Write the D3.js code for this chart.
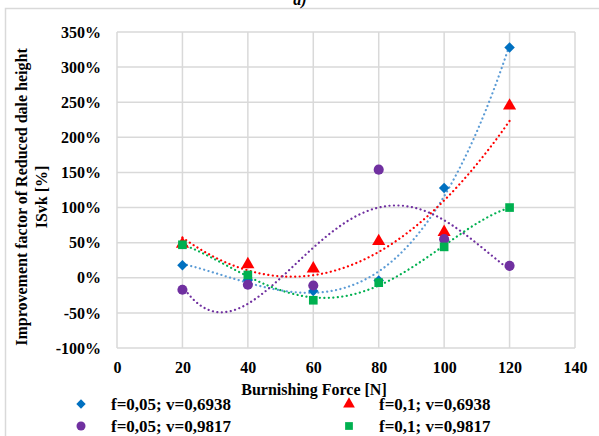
<!DOCTYPE html>
<html>
<head>
<meta charset="utf-8">
<script src="https://cdn.jsdelivr.net/npm/d3@7"></script>
<style>
  body { margin: 0; background: #fff; }
  svg { display: block; }
  svg text { font-family: "Liberation Serif", "Times New Roman", "DejaVu Serif", serif; }
</style>
</head>
<body>
<div id="chart"></div>
<script>
// data
const forces = [20, 40, 60, 80, 100, 120];
const xTicks = [0, 20, 40, 60, 80, 100, 120, 140];
const yTicks = [-100, -50, 0, 50, 100, 150, 200, 250, 300, 350];

const f005v6938 = [18, -3, -19, -4, 128, 328];
const f01v6938 = [48, 19, 13, 52, 65, 245];
const f005v9817 = [-17, -10, -11, 154, 55, 17];
const f01v9817 = [47, 4, -32, -7, 44, 100];

const seriesNames = ["f=0,05; v=0,6938", "f=0,1; v=0,6938", "f=0,05; v=0,9817", "f=0,1; v=0,9817"];
// polynomial order of each Excel trendline
const trendOrders = [3, 2, 4, 4];

const series = [
    { name: seriesNames[0], values: f005v6938, color: "#0070c0", trend: "#5b9bd5", shape: d3.symbolSquare, rot: 45, size: 55, order: trendOrders[0] },
    { name: seriesNames[1], values: f01v6938, color: "#ff0000", trend: "#ff0000", shape: d3.symbolTriangle, rot: 0, size: 75, order: trendOrders[1] },
    { name: seriesNames[2], values: f005v9817, color: "#7030a0", trend: "#7030a0", shape: d3.symbolCircle, rot: 0, size: 80, order: trendOrders[2] },
    { name: seriesNames[3], values: f01v9817, color: "#00b050", trend: "#00b050", shape: d3.symbolSquare, rot: 0, size: 75, order: trendOrders[3] }
];

const width = 599, height = 436;
const margin = { left: 117, right: 24, top: 32, bottom: 88 };
const font = "Liberation Serif, Times New Roman, DejaVu Serif, serif";

const svg = d3.select("#chart").append("svg")
    .attr("width", width)
    .attr("height", height);

// outer frame
svg.append("rect")
    .attr("x", 5.5).attr("y", 8.5)
    .attr("width", 620).attr("height", 460)
    .attr("fill", "none")
    .attr("stroke", "#d9d9d9")
    .attr("stroke-width", 1.5);

svg.append("text")
    .attr("x", 300).attr("y", 5)
    .attr("text-anchor", "middle")
    .attr("font-family", font)
    .attr("font-size", 16)
    .attr("font-weight", "bold")
    .attr("font-style", "italic")
    .text("a)");

const x = d3.scaleLinear().domain([0, 140]).range([margin.left, width - margin.right]);
const y = d3.scaleLinear().domain([-100, 350]).range([height - margin.bottom, margin.top]);

// gridlines
const grid = svg.append("g");
grid.selectAll(".hg").data(yTicks).enter().append("line")
    .attr("x1", x(0)).attr("x2", x(140))
    .attr("y1", d => y(d)).attr("y2", d => y(d))
    .attr("stroke", "#d9d9d9").attr("stroke-width", 1.5);
grid.selectAll(".vg").data(xTicks).enter().append("line")
    .attr("x1", d => x(d)).attr("x2", d => x(d))
    .attr("y1", y(-100)).attr("y2", y(350))
    .attr("stroke", "#d9d9d9").attr("stroke-width", 1.5);

// axes (labels only, Excel style)
const yAxis = svg.append("g")
    .attr("transform", `translate(${x(0)},0)`)
    .call(d3.axisLeft(y).tickValues(yTicks).tickSize(0).tickPadding(16).tickFormat(d => d + "%"));
const xAxis = svg.append("g")
    .attr("transform", `translate(0,${y(-100)})`)
    .call(d3.axisBottom(x).tickValues(xTicks).tickSize(0).tickPadding(14));
[xAxis, yAxis].forEach(a => {
    a.attr("font-family", font);
    a.select(".domain").remove();
    a.selectAll("text")
        .attr("font-size", 16)
        .attr("font-weight", "bold")
        .attr("fill", "#000");
});

// axis titles
svg.append("text")
    .attr("x", 314).attr("y", 395)
    .attr("text-anchor", "middle")
    .attr("font-family", font)
    .attr("font-size", 16)
    .attr("font-weight", "bold")
    .text("Burnishing Force [N]");

const yt = svg.append("text")
    .attr("transform", "translate(27,197) rotate(-90)")
    .attr("text-anchor", "middle")
    .attr("font-family", font)
    .attr("font-size", 16)
    .attr("font-weight", "bold");
yt.append("tspan").attr("x", 0).attr("dy", 0).text("Improvement factor of Reduced dale height");
yt.append("tspan").attr("x", 0).attr("dy", 20).text("ISvk [%]");

// least squares polynomial trendline
function polyFit(xs, ys, order) {
    const n = order + 1;
    const A = [];
    for (let i = 0; i < n; i++) {
        const row = [];
        for (let j = 0; j < n; j++) row.push(d3.sum(xs, v => Math.pow((v - 70) / 20, i + j)));
        row.push(d3.sum(xs, (v, k) => ys[k] * Math.pow((v - 70) / 20, i)));
        A.push(row);
    }
    for (let i = 0; i < n; i++) {
        let p = i;
        for (let r = i + 1; r < n; r++) if (Math.abs(A[r][i]) > Math.abs(A[p][i])) p = r;
        [A[i], A[p]] = [A[p], A[i]];
        for (let r = 0; r < n; r++) {
            if (r === i) continue;
            const f = A[r][i] / A[i][i];
            for (let c = i; c <= n; c++) A[r][c] -= f * A[i][c];
        }
    }
    const coef = A.map((row, i) => row[n] / row[i]);
    return v => coef.reduce((s, c, i) => s + c * Math.pow((v - 70) / 20, i), 0);
}

const line = d3.line().x(d => x(d[0])).y(d => y(d[1]));

series.forEach(s => {
    const fit = polyFit(forces, s.values, s.order);
    const pts = d3.range(forces[0], forces[forces.length - 1] + 0.01, 0.5).map(v => [v, fit(v)]);
    svg.append("path")
        .attr("d", line(pts))
        .attr("fill", "none")
        .attr("stroke", s.trend)
        .attr("stroke-width", 2.2)
        .attr("stroke-linecap", "round")
        .attr("stroke-dasharray", "0.1 4.4");
});

series.forEach(s => {
    svg.append("g").selectAll("path")
        .data(forces.map((f, i) => [f, s.values[i]]))
        .enter().append("path")
        .attr("transform", d => `translate(${x(d[0])},${y(d[1])}) rotate(${s.rot})`)
        .attr("d", d3.symbol().type(s.shape).size(s.size))
        .attr("fill", s.color);
});

// legend
const legendPos = [[81, 404, 111], [349, 404, 379], [81, 426, 111], [349, 426, 379]];
series.forEach((s, i) => {
    const [mx, my, tx] = legendPos[i];
    svg.append("path")
        .attr("transform", `translate(${mx},${my}) rotate(${s.rot})`)
        .attr("d", d3.symbol().type(s.shape).size(s.size * 0.8))
        .attr("fill", s.color);
    svg.append("text")
        .attr("x", tx).attr("y", my + 6)
        .attr("font-family", font)
        .attr("font-size", 17)
        .attr("font-weight", "bold")
        .text(s.name);
});
</script>
</body>
</html>
